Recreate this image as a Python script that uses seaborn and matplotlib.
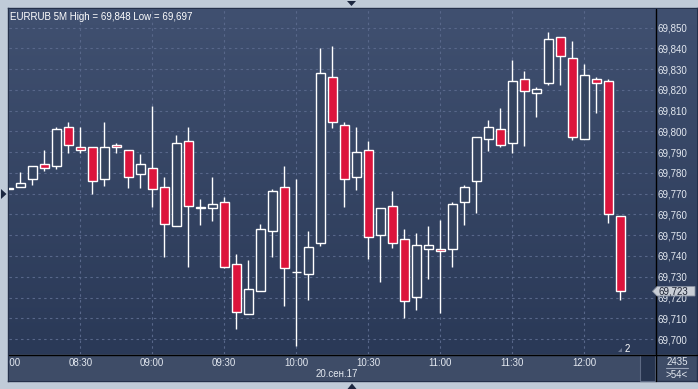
import numpy as np
import pandas as pd
import matplotlib
matplotlib.use("Agg")
import matplotlib.pyplot as plt
import seaborn as sns
from matplotlib.patches import Polygon, Rectangle
from matplotlib.lines import Line2D
from matplotlib.colors import LinearSegmentedColormap
from matplotlib.transforms import blended_transform_factory

# ---------------- data ----------------
times = ["08:00", "08:05", "08:10", "08:15", "08:20", "08:25", "08:30", "08:35", "08:40", "08:45",
         "08:50", "08:55", "09:00", "09:05", "09:10", "09:15", "09:20", "09:25", "09:30", "09:35",
         "09:40", "09:45", "09:50", "09:55", "10:00", "10:05", "10:10", "10:15", "10:20", "10:25",
         "10:30", "10:35", "10:40", "10:45", "10:50", "10:55", "11:00", "11:05", "11:10", "11:15",
         "11:20", "11:25", "11:30", "11:35", "11:40", "11:45", "11:50", "11:55", "12:00", "12:05",
         "12:10", "12:15"]
opens = [69.7729, 69.7731, 69.7769, 69.7841, 69.7832, 69.8020, 69.7923, 69.7923, 69.7769, 69.7933,
         69.7909, 69.7793, 69.7822, 69.7731, 69.7543, 69.7952, 69.7629, 69.7630, 69.7658, 69.7360,
         69.7119, 69.7230, 69.7519, 69.7731, 69.7321, 69.7312, 69.7461, 69.8260, 69.8029, 69.7779,
         69.7909, 69.7499, 69.7639, 69.7480, 69.7201, 69.7432, 69.7432, 69.7432, 69.7658, 69.7761,
         69.7962, 69.8010, 69.7942, 69.8251, 69.8183, 69.8231, 69.8453, 69.8352, 69.7962, 69.8251,
         69.8241, 69.7591]
highs = [69.7729, 69.7804, 69.7832, 69.7910, 69.8020, 69.8045, 69.8020, 69.7923, 69.8045, 69.7946,
         69.7909, 69.7891, 69.8122, 69.7779, 69.7982, 69.8021, 69.7674, 69.7779, 69.7685, 69.7409,
         69.7381, 69.7554, 69.7721, 69.7833, 69.7771, 69.7520, 69.8401, 69.8411, 69.8044, 69.8021,
         69.7955, 69.7630, 69.7713, 69.7528, 69.7509, 69.7543, 69.7572, 69.7658, 69.7742, 69.7971,
         69.8055, 69.8111, 69.8344, 69.8291, 69.8213, 69.8480, 69.8453, 69.8434, 69.8324, 69.8262,
         69.8251, 69.7591]
lows = [69.7721, 69.7731, 69.7740, 69.7810, 69.7820, 69.7897, 69.7897, 69.7700, 69.7738, 69.7897,
        69.7727, 69.7727, 69.7637, 69.7397, 69.7543, 69.7348, 69.7550, 69.7570, 69.7342, 69.7050,
        69.7119, 69.7230, 69.7397, 69.7161, 69.6968, 69.7189, 69.7449, 69.8018, 69.7637, 69.7719,
        69.7387, 69.7276, 69.7440, 69.7100, 69.7138, 69.7291, 69.7127, 69.7348, 69.7551, 69.7608,
        69.7907, 69.7923, 69.7897, 69.7931, 69.8071, 69.8222, 69.8222, 69.7958, 69.7962, 69.8090,
        69.7560, 69.7189]
closes = [69.7721, 69.7750, 69.7832, 69.7822, 69.8010, 69.7933, 69.7909, 69.7760, 69.7923, 69.7923,
          69.7779, 69.7841, 69.7721, 69.7553, 69.7942, 69.7639, 69.7638, 69.7649, 69.7348, 69.7129,
          69.7240, 69.7528, 69.7711, 69.7341, 69.7321, 69.7442, 69.8280, 69.8044, 69.7769, 69.7899,
          69.7490, 69.7630, 69.7461, 69.7182, 69.7451, 69.7451, 69.7422, 69.7649, 69.7731, 69.7971,
          69.8020, 69.7933, 69.8241, 69.8193, 69.8202, 69.8443, 69.8361, 69.7971, 69.8270, 69.8231,
          69.7601, 69.7230]
time_ticks = ["08:00", "08:30", "09:00", "09:30", "10:00", "10:30", "11:00", "11:30", "12:00"]
price_ticks = [69.700, 69.710, 69.720, 69.730, 69.740, 69.750, 69.760, 69.770,
               69.780, 69.790, 69.800, 69.810, 69.820, 69.830, 69.840, 69.850]
date_label = "20.сен.17"
header = "EURRUB 5M High = 69,848 Low = 69,697"
last_price = 69.723
last_label = "69,723"
marker_label = "2"
corner_top = "2435"
corner_bottom = ">54<"

df = pd.DataFrame({"time": times, "open": opens, "high": highs, "low": lows, "close": closes})
df["idx"] = np.arange(len(df))
df["up"] = df["close"] >= df["open"]

# ---------------- style ----------------
sns.set_theme(style="dark")
plt.rcParams["font.family"] = ["Liberation Sans", "DejaVu Sans"]

W, H = 698, 389
OUTER = "#c0cbd8"
PANEL = "#3e4c67"
TOP_C = "#405070"
BOT_C = "#2a3957"
GRID_C = "#58678a"
TXT_C = "#e3e8f0"
RED = "#dc143c"
HOLLOW = "#34435f"

fig = plt.figure(figsize=(W / 100, H / 100), dpi=100, facecolor=OUTER)


def fx(x):
    return x / W


def fy(y):
    return 1 - y / H


def box(x0, y0, x1, y1):
    return [fx(x0), fy(y1), (x1 - x0) / W, (y1 - y0) / H]


grad_cmap = LinearSegmentedColormap.from_list("bg", [BOT_C, TOP_C])
grad = np.linspace(0, 1, 256).reshape(-1, 1)

# outer frame / x-axis panel
frame = fig.add_axes(box(8, 8, 697, 381))
frame.set_facecolor(PANEL)
frame.set_xticks([])
frame.set_yticks([])
for s in frame.spines.values():
    s.set_color("#24304a")
    s.set_linewidth(1.0)

# right price panel (added before main axes so labels stay on top)
ypan = fig.add_axes(box(655, 9, 697, 354))
ypan.imshow(grad, extent=(0, 1, 0, 1), aspect="auto", cmap=grad_cmap, origin="lower")
ypan.set_xlim(0, 1)
ypan.set_ylim(0, 1)
ypan.axis("off")

# x-axis panel
axx = fig.add_axes(box(9, 355, 655, 381))
axx.set_facecolor(PANEL)
axx.set_xticks([])
axx.set_yticks([])
for s in axx.spines.values():
    s.set_visible(False)

# main axes
ax = fig.add_axes(box(9, 9, 655, 354))
x_lo = (9 - 8.2) / 12
x_hi = (655 - 8.2) / 12
y_hi = 69.850 + 18.5 / 2077
y_lo = 69.850 - 326.5 / 2077
ax.imshow(grad, extent=(0, 1, 0, 1), transform=ax.transAxes, aspect="auto",
          cmap=grad_cmap, origin="lower", zorder=0)

tick_pos = [times.index(t) for t in time_ticks]
ax.set_xticks(tick_pos)
ax.set_yticks(price_ticks)
ax.set_yticklabels([f"{p:.3f}".replace(".", ",") for p in price_ticks])
ax.yaxis.tick_right()
ax.tick_params(axis="y", length=0, pad=1.6, labelsize=7, labelcolor=TXT_C)
ax.tick_params(axis="x", length=0, labelbottom=False)
ax.grid(True, color=GRID_C, linestyle=(0, (2.2, 3)), linewidth=0.8)
ax.set_axisbelow(True)
for s in ax.spines.values():
    s.set_visible(False)

# candles
ax.vlines(df["idx"], df["low"], df["high"], color="white", linewidth=1.0, zorder=2)
fills = [HOLLOW if u else RED for u in df["up"]]
ax.bar(df["idx"], df["close"] - df["open"], bottom=df["open"], width=0.72,
       color=fills, edgecolor="white", linewidth=1.0, zorder=3)

ax.set_xlim(x_lo, x_hi)
ax.set_ylim(y_lo, y_hi)

ax.text(0.002, 0.992, header, transform=ax.transAxes, ha="left", va="top",
        fontsize=7, color="white", zorder=6)

# time labels in the x panel (clipped)
axx.set_xlim(x_lo, x_hi)
axx.set_ylim(0, 1)
tr = blended_transform_factory(axx.transData, axx.transAxes)
for t, p in zip(time_ticks, tick_pos):
    axx.text(p, 0.70, t, transform=tr, ha="center", va="center", fontsize=7,
             color=TXT_C, clip_on=True)
axx.text(0.508, 0.27, date_label, transform=axx.transAxes, ha="center", va="center",
         fontsize=7, color=TXT_C)
axx.add_patch(Rectangle(((640 - 9) / 646, 0.0), 15 / 646, 1.0,
                        transform=axx.transAxes, facecolor="#26344f",
                        edgecolor="#5d6a84", linewidth=0.8, zorder=4, clip_on=False))

# separators
fig.add_artist(Line2D([fx(655.5), fx(655.5)], [fy(9), fy(381)], color="black", lw=1.0))
fig.add_artist(Line2D([fx(9), fx(697)], [fy(354.5), fy(354.5)], color="black", lw=1.0))

# last price tag
last_y = 27.5 + (69.850 - last_price) / 0.01 * 20.77
tag = Polygon([(fx(652.5), fy(last_y)), (fx(657), fy(last_y - 4.7)), (fx(695), fy(last_y - 4.7)),
               (fx(695), fy(last_y + 4.7)), (fx(657), fy(last_y + 4.7))],
              closed=True, transform=fig.transFigure, facecolor="#c9ced6",
              edgecolor="#8a93a3", linewidth=0.6, zorder=10)
fig.add_artist(tag)
fig.text(fx(658.5), fy(last_y), last_label, ha="left", va="center", fontsize=7,
         color="#1b2233", zorder=11)

# small marker "2"
fig.add_artist(Polygon([(fx(618), fy(352)), (fx(622), fy(352)), (fx(622), fy(348))],
                       closed=True, transform=fig.transFigure, facecolor="#6b7791",
                       edgecolor="none", zorder=10))
fig.text(fx(627), fy(349.5), marker_label, ha="center", va="center", fontsize=7,
         color="white", zorder=11)

# corner box texts
fig.text(fx(677), fy(362), corner_top, ha="center", va="center", fontsize=7, color=TXT_C)
fig.add_artist(Line2D([fx(666), fx(688)], [fy(368.3), fy(368.3)], color="#9aa4b8", lw=0.8))
fig.text(fx(677), fy(374.5), corner_bottom, ha="center", va="center", fontsize=7, color=TXT_C)

# navigation triangles
tri_c = "#1c2740"
fig.add_artist(Polygon([(fx(347), fy(1)), (fx(356), fy(1)), (fx(351.5), fy(6))],
                       closed=True, transform=fig.transFigure, facecolor=tri_c, edgecolor="none"))
fig.add_artist(Polygon([(fx(347.5), fy(389)), (fx(356.5), fy(389)), (fx(352), fy(383.5))],
                       closed=True, transform=fig.transFigure, facecolor=tri_c, edgecolor="none"))
fig.add_artist(Polygon([(fx(1), fy(189)), (fx(1), fy(199)), (fx(6.5), fy(194))],
                       closed=True, transform=fig.transFigure, facecolor=tri_c, edgecolor="none"))

fig.savefig("out.png", dpi=100, facecolor=OUTER)
